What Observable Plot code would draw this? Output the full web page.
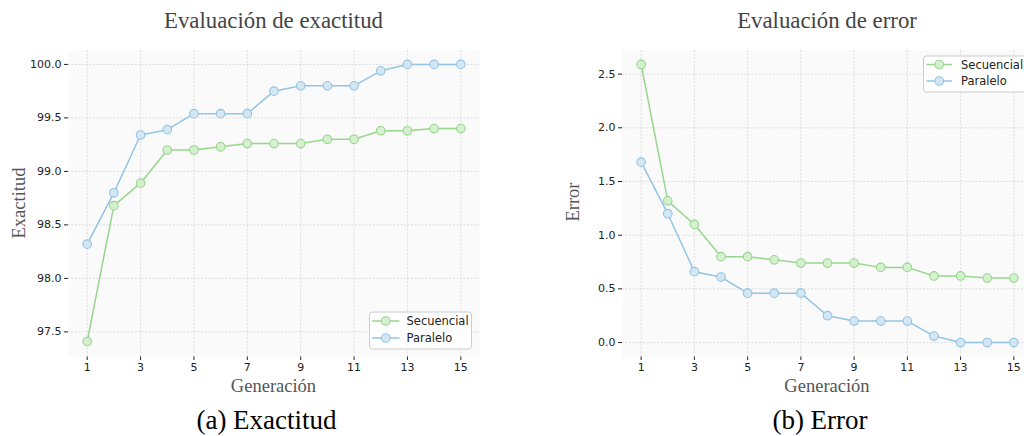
<!DOCTYPE html>
<html>
<head>
<meta charset="utf-8">
<script src="https://cdn.jsdelivr.net/npm/d3@7"></script>
<script src="https://cdn.jsdelivr.net/npm/@observablehq/plot@0.6"></script>
<style>
  html, body { margin: 0; padding: 0; background: #fff; overflow: hidden; }
  #wrap { position: relative; width: 1024px; height: 436px; overflow: hidden; }
  #wrap > svg, #wrap > div { position: absolute; top: 0; }
</style>
</head>
<body>
<div id="wrap"></div>
<script>
// ---- data ----
const generations = [1,2,3,4,5,6,7,8,9,10,11,12,13,14,15];
const accSecuencial = [97.41, 98.68, 98.89, 99.20, 99.20, 99.23, 99.26, 99.26, 99.26, 99.30, 99.30, 99.38, 99.38, 99.40, 99.40];
const accParalelo   = [98.32, 98.80, 99.34, 99.39, 99.54, 99.54, 99.54, 99.75, 99.80, 99.80, 99.80, 99.94, 100.0, 100.0, 100.0];
const errSecuencial = [2.59, 1.32, 1.10, 0.80, 0.80, 0.77, 0.74, 0.74, 0.74, 0.70, 0.70, 0.62, 0.62, 0.60, 0.60];
const errParalelo   = [1.68, 1.20, 0.66, 0.61, 0.46, 0.46, 0.46, 0.25, 0.20, 0.20, 0.20, 0.06, 0.00, 0.00, 0.00];
const seriesNames = ["Secuencial", "Paralelo"];
const xTicks = [1,3,5,7,9,11,13,15];
const accTicks = [97.5, 98.0, 98.5, 99.0, 99.5, 100.0];
const errTicks = [0.0, 0.5, 1.0, 1.5, 2.0, 2.5];
const titles = ["Evaluación de exactitud", "Evaluación de error"];
const yLabels = ["Exactitud", "Error"];
const xLabel = "Generación";
const captions = ["(a) Exactitud", "(b) Error"];

const lineColor = {Secuencial: "#98d68d", Paralelo: "#93c4e4"};
const fillColor = {Secuencial: "#d5f0cf", Paralelo: "#d3e6f4"};

function rows(a, b) {
  const out = [];
  generations.forEach((g, i) => out.push({gen: g, value: a[i], series: "Secuencial"}));
  generations.forEach((g, i) => out.push({gen: g, value: b[i], series: "Paralelo"}));
  return out;
}
const accData = rows(accSecuencial, accParalelo);
const errData = rows(errSecuencial, errParalelo);

function chart(data, yDomain, yTicks, opts) {
  return Plot.plot({
    width: opts.width, height: 436,
    marginLeft: opts.marginLeft, marginRight: opts.marginRight,
    marginTop: 50, marginBottom: 80,
    style: {fontFamily: "DejaVu Sans", fontSize: "11px", color: "#222", background: "transparent", overflow: "visible"},
    x: {domain: [0.3, 15.7], ticks: xTicks, tickFormat: d3.format("d"), tickSize: 4, tickPadding: 3, label: null},
    y: {domain: yDomain, ticks: yTicks, tickFormat: d3.format(".1f"), tickSize: 4, tickPadding: 3, label: null},
    color: {domain: seriesNames, range: seriesNames.map(s => lineColor[s])},
    marks: [
      Plot.frame({fill: "#fafafa", stroke: null}),
      Plot.gridX(xTicks, {stroke: "#d6d6d6", strokeOpacity: 1, strokeDasharray: "2,1.5", strokeWidth: 0.8}),
      Plot.gridY(yTicks, {stroke: "#d6d6d6", strokeOpacity: 1, strokeDasharray: "2,1.5", strokeWidth: 0.8}),
      Plot.line(data, {x: "gen", y: "value", z: "series", stroke: "series", strokeWidth: 1.5}),
      Plot.dot(data, {x: "gen", y: "value", r: 4.3, stroke: "series", fill: d => fillColor[d.series], strokeWidth: 1.1})
    ]
  });
}

const wrap = document.getElementById("wrap");
const left = chart(accData, [97.27, 100.13], accTicks, {width: 512, marginLeft: 68, marginRight: 33});
left.style.left = "0px";
wrap.appendChild(left);
const right = chart(errData, [-0.13, 2.72], errTicks, {width: 520, marginLeft: 110, marginRight: 0});
right.style.left = "512px";
wrap.appendChild(right);

// ---- overlay texts & legends ----
const ns = "http://www.w3.org/2000/svg";
const ov = document.createElementNS(ns, "svg");
ov.setAttribute("width", 1024); ov.setAttribute("height", 436);
ov.style.left = "0px";
wrap.appendChild(ov);
function el(tag, attrs, text) {
  const e = document.createElementNS(ns, tag);
  for (const k in attrs) e.setAttribute(k, attrs[k]);
  if (text != null) e.textContent = text;
  ov.appendChild(e);
  return e;
}
const serif = "'Liberation Serif', 'Times New Roman', serif";
const centers = [273.5, 827];
titles.forEach((t, i) => el("text", {x: centers[i], y: 27.5, "text-anchor": "middle", "font-family": serif, "font-size": 22.8, fill: "#444"}, t));
centers.forEach(c => el("text", {x: c, y: 392, "text-anchor": "middle", "font-family": serif, "font-size": 18.5, fill: "#555"}, xLabel));
el("text", {transform: "translate(25,203) rotate(-90)", "text-anchor": "middle", "font-family": serif, "font-size": 18.5, fill: "#555"}, yLabels[0]);
el("text", {transform: "translate(579,202) rotate(-90)", "text-anchor": "middle", "font-family": serif, "font-size": 18.5, fill: "#555"}, yLabels[1]);
const capCenters = [266.5, 820];
captions.forEach((c, i) => el("text", {x: capCenters[i], y: 429, "text-anchor": "middle", "font-family": serif, "font-size": 27, fill: "#000"}, c));

function legend(x, y, w, h, rowYs, lineX0, lineX1, textX) {
  el("rect", {x: x, y: y, width: w, height: h, rx: 3, fill: "#fff", "fill-opacity": 0.85, stroke: "#ccc", "stroke-width": 1});
  seriesNames.forEach((s, i) => {
    el("line", {x1: lineX0, x2: lineX1, y1: rowYs[i], y2: rowYs[i], stroke: lineColor[s], "stroke-width": 1.5});
    el("circle", {cx: (lineX0 + lineX1) / 2, cy: rowYs[i], r: 4.3, fill: fillColor[s], stroke: lineColor[s], "stroke-width": 1.1});
    el("text", {x: textX, y: rowYs[i] + 4, "font-family": "DejaVu Sans", "font-size": 11.5, fill: "#222"}, s);
  });
}
legend(369.5, 312, 102, 37, [321, 338], 372, 399.5, 406.5);
legend(923.5, 56, 103, 36, [64.5, 81], 926.5, 952, 961);
</script>
</body>
</html>
